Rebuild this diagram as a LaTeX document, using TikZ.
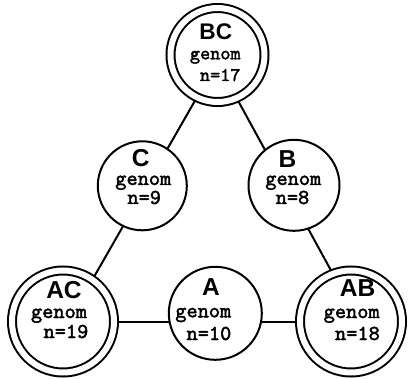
\documentclass[tikz,border=0pt]{standalone}
\usepackage{fontspec}
\usetikzlibrary{backgrounds}
\newfontfamily\lblfont{Liberation Sans}
\newfontfamily\gmono{lmmono10-regular.otf}[FakeBold=2]
\begin{document}
\begin{tikzpicture}[x=1pt,y=-1pt,
  ring/.style={circle, draw, fill=white, line width=2pt, inner sep=0pt},
  single/.style={ring, minimum size=#1},
  dring/.style={ring, double, double distance=6pt, minimum size=#1},
  link/.style={line width=2pt},
  lbl/.style={anchor=base, inner sep=0pt, font=\lblfont\bfseries\fontsize{24.5}{24}\selectfont},
  lblsmall/.style={lbl, font=\lblfont\bfseries\fontsize{22.6}{22}\selectfont},
  gtext/.style={anchor=base, inner sep=0pt, font=\gmono\fontsize{21.3}{22}\selectfont},
  gsmall/.style={gtext, font=\gmono\fontsize{19.3}{20}\selectfont},
]
\useasboundingbox (0,0) rectangle (409,379);

% circles
\node[dring=94pt]  (BC) at (217.5,55) {};
\node[single=89pt] (C)  at (142.3,185.8) {};
\node[single=91pt] (B)  at (294,185.3) {};
\node[dring=102pt] (AC) at (63,321.5) {};
\node[single=93pt] (A)  at (215.3,313.3) {};
\node[dring=102pt] (AB) at (351,321.5) {};

% texts
\node[lblsmall] (BCl) at (215.8,40) {BC};
\node[gsmall] (BCg) at (215.3,59.3) {genom};
\node[gsmall, anchor=base east] (BCn) at (240.7,81) {n=17};

\node[lbl] (Cl) at (140.8,166.7) {C};
\node[gtext] (Cg) at (143.3,185) {genom};
\node[gtext] (Cn) at (144.2,204) {n=9};

\node[lbl] (Bl) at (287.5,167.3) {B};
\node[gtext] (Bg) at (293.3,185) {genom};
\node[gtext] (Bn) at (292.5,204) {n=8};

\node[lbl] (ACl) at (64,298) {AC};
\node[gtext] (ACg) at (59,318) {genom};
\node[gtext, anchor=base east] (ACn) at (88.5,338) {n=19};

\node[lbl] (Al) at (211,295) {A};
\node[gtext] (Ag) at (203.3,317.3) {genom};
\node[gtext, anchor=base east] (An) at (231.5,340) {n=10};

\node[lbl] (ABl) at (357.5,296.7) {AB};
\node[gtext] (ABg) at (351.7,318) {genom};
\node[gtext, anchor=base east] (ABn) at (380,340) {n=18};

% connectors behind the circles
\begin{scope}[on background layer]
  \draw[link] (BC.244) -- (AC.55);
  \draw[link] (BC.294) -- (AB.111);
  \draw[link] (AC) -- (AB);
\end{scope}
\end{tikzpicture}
\end{document}
